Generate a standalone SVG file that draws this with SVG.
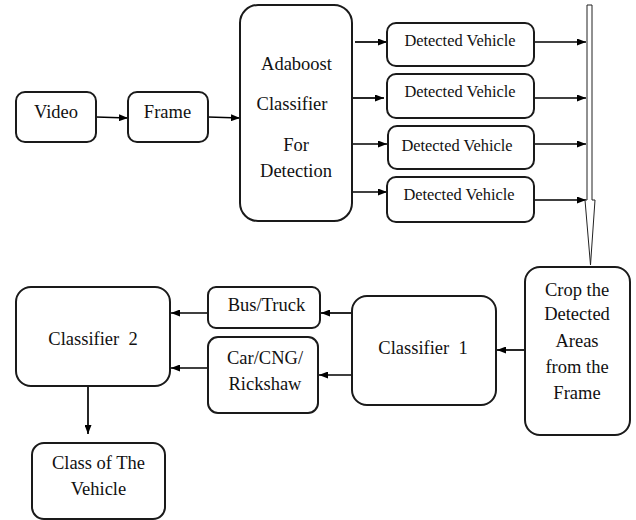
<svg xmlns="http://www.w3.org/2000/svg" width="636" height="520" viewBox="0 0 636 520">
<defs>
<marker id="ah" markerWidth="9" markerHeight="7" refX="9" refY="3.5" orient="auto" markerUnits="userSpaceOnUse">
<path d="M0,0 L9,3.5 L0,7 Z" fill="#000"/>
</marker>
</defs>
<style>
.box{fill:#fff;stroke:#1a1a1a;stroke-width:2}
.c{stroke:#000;stroke-width:1.7;fill:none;marker-end:url(#ah)}
</style>
<rect width="636" height="520" fill="#fff"/>
<g id="connectors">
<line class="c" x1="96" y1="117" x2="128" y2="118"/>
<line class="c" x1="208" y1="117" x2="240" y2="118"/>
<line class="c" x1="355" y1="42" x2="387" y2="42"/>
<line class="c" x1="352" y1="98" x2="384" y2="98"/>
<line class="c" x1="352" y1="144" x2="387" y2="144"/>
<line class="c" x1="352" y1="192" x2="387" y2="192"/>
<line class="c" x1="534" y1="42" x2="586" y2="42"/>
<line class="c" x1="534" y1="98" x2="586" y2="98"/>
<line class="c" x1="534" y1="144" x2="586" y2="144"/>
<line class="c" x1="534" y1="200" x2="586" y2="200"/>
<path d="M587,5 L592,5 L592,200 L595,200 L590.5,265 L585,200 L587,200 Z" fill="#fff" stroke="#222" stroke-width="1"/>
<line class="c" x1="525" y1="350" x2="497" y2="350"/>
<line class="c" x1="352" y1="313" x2="321" y2="313"/>
<line class="c" x1="352" y1="375" x2="319" y2="375"/>
<line class="c" x1="208" y1="313" x2="171" y2="313"/>
<line class="c" x1="208" y1="368" x2="171" y2="368"/>
<line class="c" x1="88" y1="386" x2="88" y2="434"/>
</g>
<g font-family="Liberation Serif, Times New Roman, serif" font-size="18.5" fill="#111" text-anchor="middle">
<g id="video"><rect class="box" x="16" y="92" width="80" height="50" rx="9"/><text x="56" y="118">Video</text></g>
<g id="frame"><rect class="box" x="128" y="92" width="80" height="50" rx="9"/><text x="167.5" y="118">Frame</text></g>
<g id="adaboost"><rect class="box" x="240" y="5" width="112" height="216" rx="18"/>
<text x="296.5" y="70">Adaboost</text><text x="292" y="110">Classifier</text><text x="296" y="151">For</text><text x="296" y="177">Detection</text></g>
<g id="dv1" font-size="16.4"><rect class="box" x="387" y="23" width="147" height="43" rx="9"/><text x="460" y="46">Detected Vehicle</text></g>
<g id="dv2" font-size="16.4"><rect class="box" x="387" y="74" width="147" height="44" rx="9"/><text x="460" y="97">Detected Vehicle</text></g>
<g id="dv3" font-size="16.4"><rect class="box" x="388" y="126" width="146" height="43" rx="9"/><text x="457" y="151">Detected Vehicle</text></g>
<g id="dv4" font-size="16.4"><rect class="box" x="387" y="177" width="147" height="45" rx="9"/><text x="459" y="200">Detected Vehicle</text></g>
<g id="crop"><rect class="box" x="525" y="267" width="105" height="168" rx="15"/>
<text x="577" y="296">Crop the</text><text x="577" y="320">Detected</text><text x="577" y="347">Areas</text><text x="577" y="373">from the</text><text x="577" y="399">Frame</text></g>
<g id="classifier1"><rect class="box" x="352" y="296" width="144" height="109" rx="15"/><text x="423" y="354" xml:space="preserve">Classifier  1</text></g>
<g id="bustruck"><rect class="box" x="208" y="287" width="112" height="41" rx="8"/><text x="266.5" y="311">Bus/Truck</text></g>
<g id="car"><rect class="box" x="208" y="337" width="110" height="76" rx="10"/><text x="265" y="364">Car/CNG/</text><text x="265" y="390">Rickshaw</text></g>
<g id="classifier2"><rect class="box" x="16" y="287" width="154" height="99" rx="15"/><text x="93" y="345" xml:space="preserve">Classifier  2</text></g>
<g id="classvehicle"><rect class="box" x="32" y="443" width="133" height="76" rx="12"/><text x="98.5" y="469">Class of The</text><text x="98.5" y="495">Vehicle</text></g>
</g>
</svg>
